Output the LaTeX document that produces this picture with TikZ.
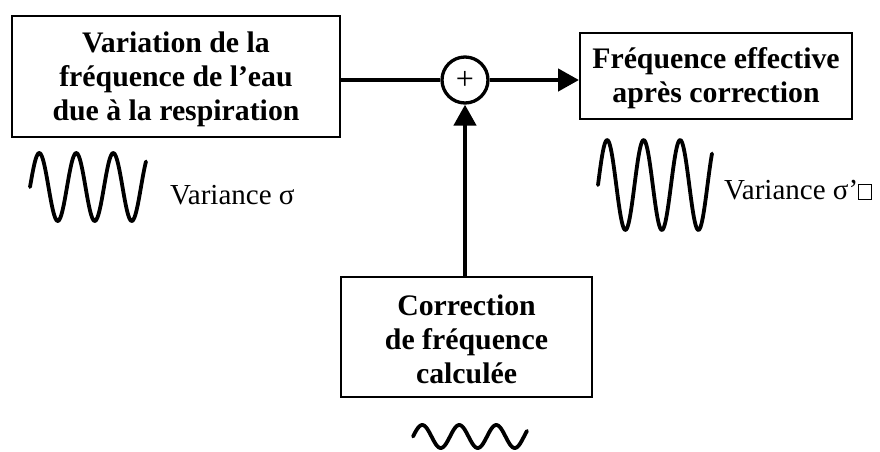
\documentclass[tikz,border=0pt]{standalone}
\usepackage{fontspec}
\setmainfont{Liberation Serif}
\usetikzlibrary{arrows.meta}
\begin{document}
\begin{tikzpicture}[x=1pt,y=-1pt,
  blockbox/.style={draw, line width=2pt, inner sep=0pt, align=center,
    font=\fontsize{29.8}{34}\selectfont\bfseries},
  conn/.style={line width=4.5pt},
  arr/.style={conn, -{Triangle[length=21pt,width=22pt]}},
  wave/.style={line width=3.8pt, line cap=round, line join=round},
  vartext/.style={anchor=base west, inner sep=0pt, font=\fontsize{29}{34}\selectfont}]
\useasboundingbox (0,0) rectangle (880,451);

\node[blockbox, minimum width=328pt, minimum height=121pt] (box1) at (176,76.5)
  {\rule{0pt}{26pt}Variation de la\\fréquence de l’eau\\due à la respiration};
\node[blockbox, minimum width=272pt, minimum height=86pt] (box2) at (716,76)
  {\rule{0pt}{26pt}Fréquence effective\\après correction};
\node[blockbox, minimum width=251pt, minimum height=120pt] (box3) at (466.5,337)
  {\rule{0pt}{26pt}Correction\\de fréquence\\calculée};

\node[draw, circle, line width=3.3pt, minimum size=46pt, inner sep=0pt,
  font=\fontsize{32}{32}\selectfont] (sum) at (465,80) {+};

\draw[conn] (box1.east |- sum.west) -- (sum.west);
\draw[arr] (sum.east) -- (sum.east -| box2.west);
\draw[arr] (sum.south |- box3.north) -- (sum.south);

\draw[wave] plot[domain=0:116, samples=120, smooth] ({30+\x},{187-34*sin(\x/37*360)});
\draw[wave] plot[domain=0:114, samples=120, smooth] ({598+\x},{185-45*sin(\x/36.5*360)});
\draw[wave] plot[domain=0:114, samples=120, smooth] ({413+\x},{436.5-11.5*sin(\x/37*360)});

\node[vartext] (v1) at (170,204) {Variance σ};
\node[vartext] (v2) at (724,199) {Variance σ’{\fboxsep=0pt\fboxrule=0.8pt\fbox{\rule{0pt}{14pt}\hspace{12pt}}}};
\end{tikzpicture}
\end{document}
